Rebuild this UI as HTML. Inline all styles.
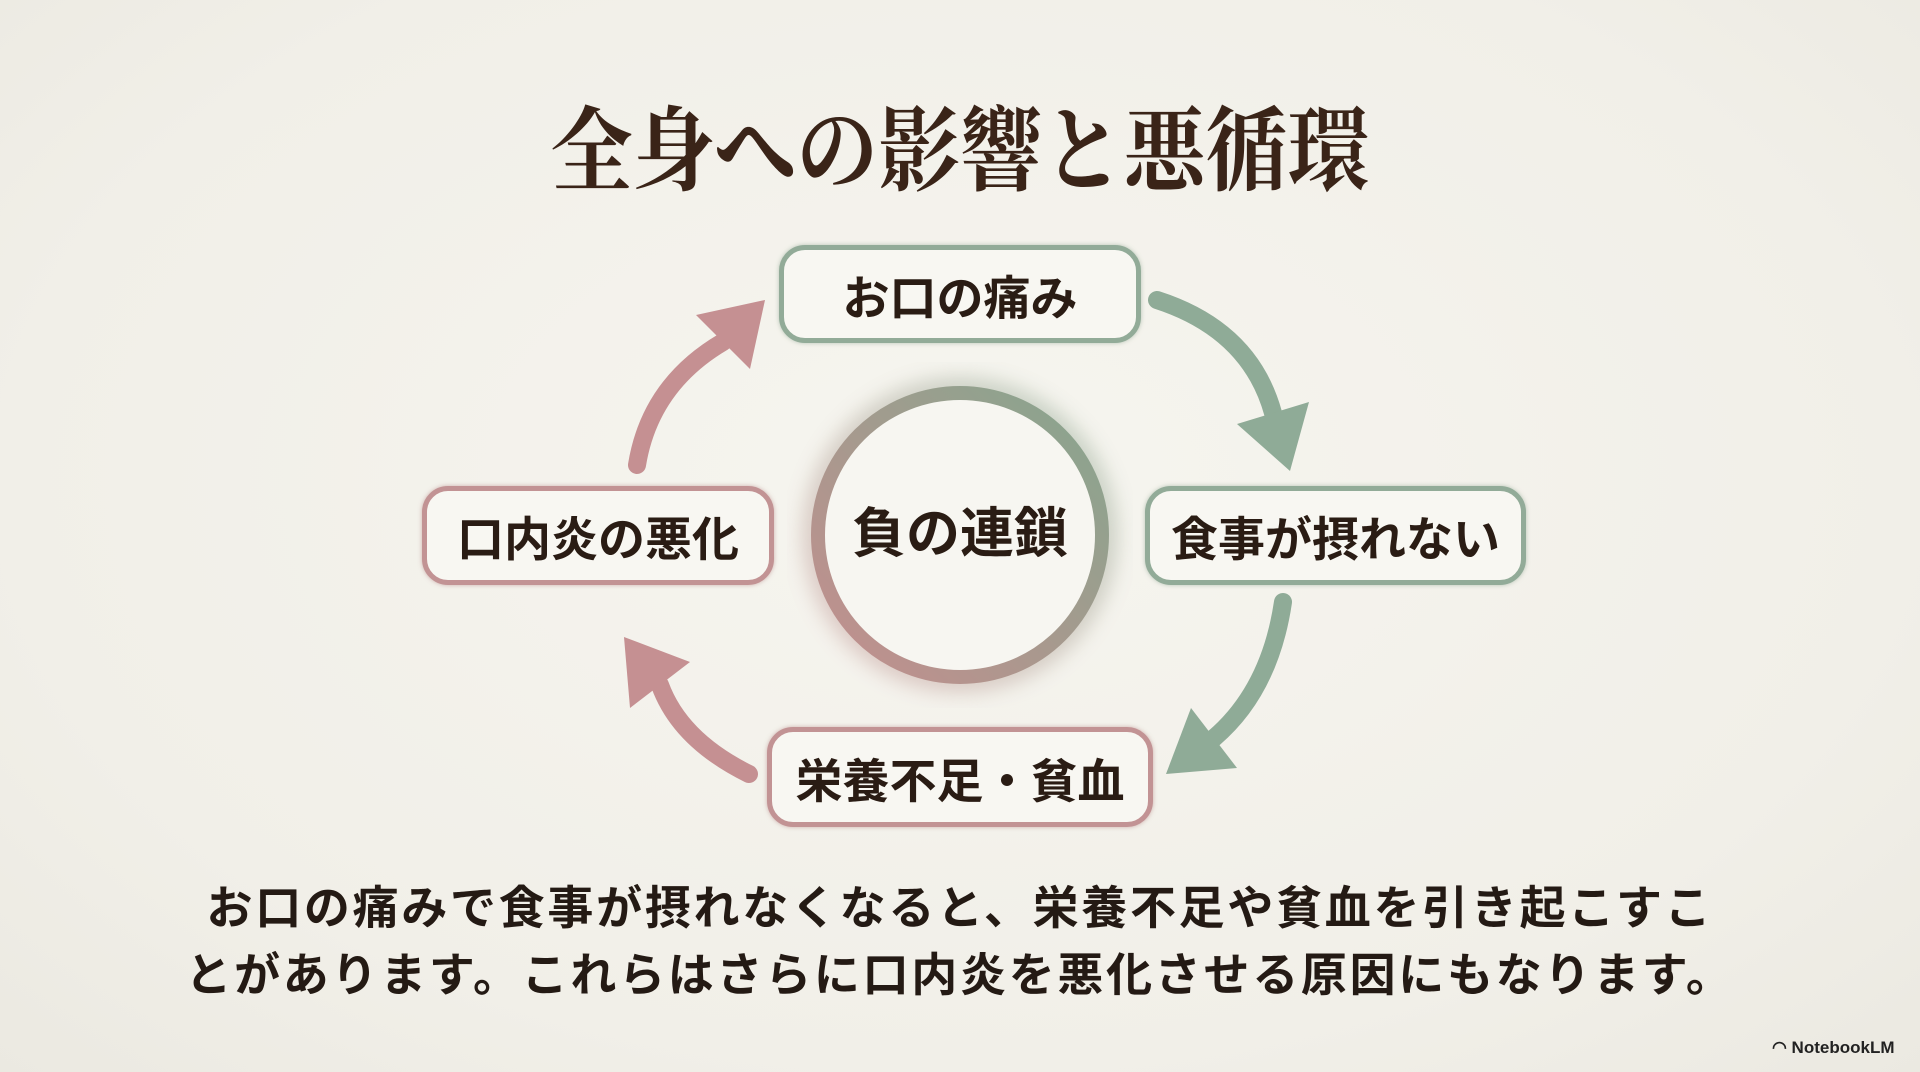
<!DOCTYPE html>
<html><head><meta charset="utf-8"><style>
html,body{margin:0;padding:0}
body{width:1920px;height:1072px;position:relative;overflow:hidden;background:radial-gradient(ellipse at 50% 45%,#f6f5ef 0%,#f1efe8 70%,#ebe9e1 100%);font-family:"Liberation Sans","Noto Sans CJK JP",sans-serif;color:#2a1c14}
.title{position:absolute;left:0;width:1920px;top:97px;text-align:center;font-family:"Liberation Serif","Noto Serif CJK SC",serif;font-weight:bold;font-size:92px;line-height:110px;color:#3a2418;letter-spacing:0;transform:scaleX(0.89);transform-origin:960px 0}
.box{position:absolute;box-sizing:border-box;border-radius:26px;background:#f8f7f2;display:flex;align-items:center;justify-content:center;font-weight:bold;font-size:47px;color:#2a1c14}
.g{border:5px solid #92ab98;box-shadow:0 0 4px rgba(120,150,125,.5)}
.r{border:5px solid #c29394;box-shadow:0 0 4px rgba(170,110,110,.5)}
.txt{position:absolute;left:0;width:1920px;text-align:center;font-size:46px;font-weight:bold;letter-spacing:2.7px;line-height:60px;color:#241a14}
.logo{position:absolute;left:1772px;top:1038px;font-size:17px;font-weight:bold;color:#222}
</style></head><body>
<div class="title">全身への影響と悪循環</div>
<svg width="1920" height="1072" style="position:absolute;left:0;top:0">
<defs>
<linearGradient id="cg" x1="1" y1="0" x2="0" y2="1">
<stop offset="0" stop-color="#86a68e"/><stop offset="1" stop-color="#c48e8e"/></linearGradient>
<filter id="bl"><feGaussianBlur stdDeviation="10"/></filter>
</defs>
<circle cx="960" cy="535" r="144" fill="none" stroke="url(#cg)" stroke-width="26" opacity=".45" filter="url(#bl)"/>
<circle cx="960" cy="535" r="142" fill="#f7f6f1" stroke="url(#cg)" stroke-width="14"/>
<g fill="none" stroke-linecap="round">
<path d="M1157,300 Q1250,330 1273,413" stroke="#8fab97" stroke-width="18"/>
<path d="M1283,602 Q1270,690 1214,738" stroke="#8fab97" stroke-width="18"/>
<path d="M749,774 Q680,740 660,685" stroke="#c59092" stroke-width="18"/>
<path d="M637,465 Q650,385 723,342" stroke="#c59092" stroke-width="18"/>
</g>
<polygon points="1290,471 1309,402 1237,424" fill="#8fab97"/>
<polygon points="1166,774 1237,768 1191,708" fill="#8fab97"/>
<polygon points="624,637 690,662 630,708" fill="#c59092"/>
<polygon points="765,300 750,369 696,315" fill="#c59092"/>
<text x="960" y="552" text-anchor="middle" font-family="Liberation Sans, Noto Sans CJK JP, sans-serif" font-weight="bold" font-size="54" fill="#2a1c14">負の連鎖</text>
</svg>
<div class="box g" style="left:779px;top:245px;width:362px;height:98px">お口の痛み</div>
<div class="box g" style="left:1145px;top:486px;width:381px;height:99px">食事が摂れない</div>
<div class="box r" style="left:422px;top:486px;width:352px;height:99px">口内炎の悪化</div>
<div class="box r" style="left:767px;top:727px;width:386px;height:100px">栄養不足・貧血</div>
<div class="txt" style="top:878px">お口の痛みで食事が摂れなくなると、栄養不足や貧血を引き起こすこ</div>
<div class="txt" style="top:945px">とがあります。これらはさらに口内炎を悪化させる原因にもなります。</div>
<div class="logo">◠ NotebookLM</div>
</body></html>
